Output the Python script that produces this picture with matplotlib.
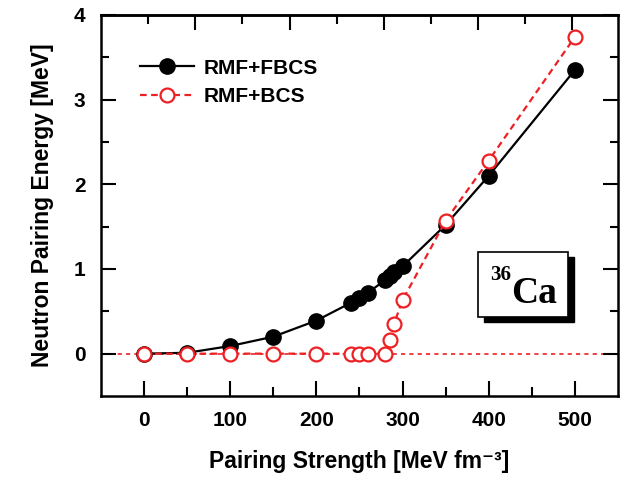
import matplotlib
matplotlib.use("Agg")
import matplotlib.pyplot as plt
from matplotlib.patches import Rectangle

plt.rcParams['font.family'] = ['Liberation Sans', 'DejaVu Sans']

RED = '#ED2024'

# pairing strength [MeV fm^-3]
strength = [0, 50, 100, 150, 200, 240, 250, 260, 280, 285, 290, 300, 350, 400, 500]
# neutron pairing energy [MeV]
fbcs = [0.0, 0.01, 0.09, 0.20, 0.39, 0.60, 0.66, 0.72, 0.87, 0.92, 0.97, 1.03, 1.52, 2.10, 3.35]
bcs = [0.0, 0.0, 0.0, 0.0, 0.0, 0.0, 0.0, 0.0, 0.0, 0.16, 0.35, 0.63, 1.57, 2.28, 3.74]

xticks = [0, 100, 200, 300, 400, 500]
yticks = [0, 1, 2, 3, 4]

fig = plt.figure(figsize=(6.3, 4.8), dpi=100)
ax = fig.add_axes([0.160, 0.175, 0.821, 0.794])

ax.axhline(0, color=RED, lw=1.2, ls=(0, (2.5, 2.5)), zorder=1)

ax.plot(strength, fbcs, color='black', lw=1.6, marker='o', ms=11,
        mfc='black', mec='black', label='RMF+FBCS', zorder=3)
ax.plot(strength, bcs, color=RED, lw=1.6, ls=(0, (3, 2)), marker='o', ms=10,
        mfc='white', mec=RED, mew=1.6, label='RMF+BCS', zorder=4)

ax.set_xlim(-50, 550)
ax.set_ylim(-0.5, 4)
ax.set_xticks(xticks)
ax.set_xticks([t + 50 for t in xticks[:-1]], minor=True)
ax.set_yticks(yticks)
ax.set_yticks([t + 0.5 for t in yticks[:-1]], minor=True)

ax.tick_params(which='both', direction='in', width=1.5, labelsize=15,
               pad=11, right=True)
ax.tick_params(axis='x', which='major', length=11)
ax.tick_params(axis='x', which='minor', length=6.5)
ax.tick_params(axis='y', which='major', length=10.5)
ax.tick_params(axis='y', which='minor', length=6)
for lab in ax.get_xticklabels() + ax.get_yticklabels():
    lab.set_fontweight('bold')
for sp in ax.spines.values():
    sp.set_linewidth(1.8)

# top axis has its own tick spacing
top = ax.secondary_xaxis('top')
top_major = [4.8 + 54.7 * i for i in range(1, 10, 2)]
top_minor = [4.8 + 54.7 * i for i in range(0, 10, 2)]
top.set_xticks(top_major)
top.set_xticks(top_minor, minor=True)
top.tick_params(which='both', direction='in', width=1.5, labeltop=False)
top.tick_params(which='major', length=11)
top.tick_params(which='minor', length=6.5)
top.spines['top'].set_linewidth(1.8)

ax.set_xlabel('Pairing Strength [MeV fm\u207b\u00b3]', fontsize=16.5,
              fontweight='bold', labelpad=14)
ax.set_ylabel('Neutron Pairing Energy [MeV]', fontsize=16.5,
              fontweight='bold', labelpad=14)

leg = ax.legend(loc='upper left', bbox_to_anchor=(0.075, 0.885), frameon=False,
                handlelength=2.6, handletextpad=0.45,
                labelspacing=0.45, borderpad=0, borderaxespad=0,
                prop={'weight': 'bold', 'size': 15})

# nucleus label box with shadow
ax.add_patch(Rectangle((0.741, 0.194), 0.174, 0.171, transform=ax.transAxes,
                       facecolor='black', edgecolor='black', zorder=5))
ax.add_patch(Rectangle((0.729, 0.207), 0.174, 0.171, transform=ax.transAxes,
                       facecolor='white', edgecolor='black', lw=1.2, zorder=6))
ax.text(0.752, 0.318, '36', transform=ax.transAxes, fontsize=15,
        fontweight='bold', family='Liberation Serif', ha='left', va='center',
        zorder=7)
ax.text(0.793, 0.245, 'Ca', transform=ax.transAxes, fontsize=27,
        fontweight='bold', family='Liberation Serif', ha='left',
        va='baseline', zorder=7)

fig.savefig('out.png', dpi=100)
